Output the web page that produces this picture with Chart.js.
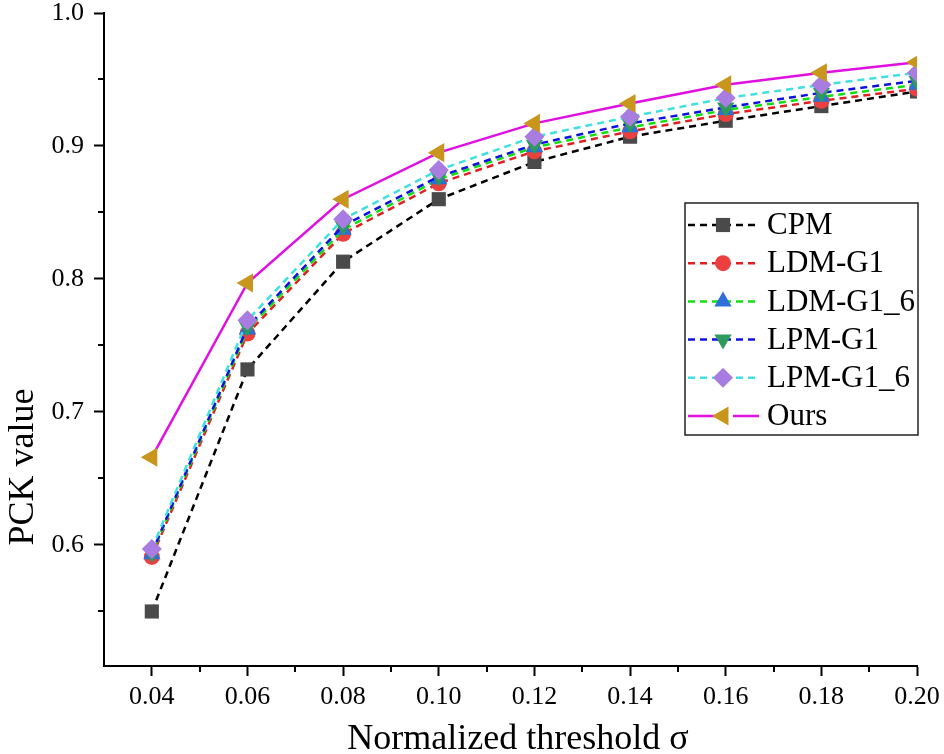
<!DOCTYPE html>
<html>
<head>
<meta charset="utf-8">
<script src="https://cdn.jsdelivr.net/npm/chart.js@4/dist/chart.umd.min.js"></script>
<style>
    html, body { margin: 0; padding: 0; background: #fff; }
    #wrap { width: 944px; height: 754px; }
</style>
</head>
<body>
<div id="wrap"><canvas id="chart" width="944" height="754"></canvas></div>
<script>
// --- Données ---
const thresholds = [0.04, 0.06, 0.08, 0.10, 0.12, 0.14, 0.16, 0.18, 0.20];
const cpm      = [0.550, 0.732, 0.813, 0.860, 0.888, 0.907, 0.919, 0.930, 0.941];
const ldmG1    = [0.591, 0.759, 0.834, 0.872, 0.896, 0.911, 0.924, 0.934, 0.943];
const ldmG1_6  = [0.593, 0.762, 0.837, 0.875, 0.899, 0.914, 0.927, 0.937, 0.946];
const lpmG1    = [0.594, 0.764, 0.840, 0.877, 0.901, 0.917, 0.929, 0.940, 0.949];
const lpmG1_6  = [0.597, 0.769, 0.845, 0.882, 0.907, 0.922, 0.936, 0.946, 0.955];
const ours     = [0.666, 0.797, 0.860, 0.895, 0.917, 0.932, 0.946, 0.955, 0.963];

const xTicks      = [0.04, 0.06, 0.08, 0.10, 0.12, 0.14, 0.16, 0.18, 0.20];
const xMinorTicks = [0.05, 0.07, 0.09, 0.11, 0.13, 0.15, 0.17, 0.19];
const yTicks      = [0.6, 0.7, 0.8, 0.9, 1.0];
const yMinorTicks = [0.55, 0.65, 0.75, 0.85, 0.95];

const FONT = "'Liberation Serif', 'Times New Roman', serif";
const X_TITLE = 'Normalized threshold σ';
const Y_TITLE = 'PCK value';

function toPoints(values) {
    return thresholds.map((x, i) => ({ x, y: values[i] }));
}

function makeSeries(label, values, lineColor, markerColor, pointStyle, rotation, radius, dashed, order) {
    return {
        label,
        data: toPoints(values),
        order,
        borderColor: lineColor,
        borderWidth: 2.5,
        borderDash: dashed ? [7, 5] : [],
        backgroundColor: markerColor,
        pointBackgroundColor: markerColor,
        pointBorderColor: markerColor,
        pointBorderWidth: 0,
        pointStyle,
        pointRotation: rotation,
        pointRadius: radius,
        tension: 0,
        fill: false
    };
}

// order : plus petit = dessiné par-dessus
const datasets = [
    makeSeries('CPM',       cpm,     '#000000', '#4a4a4a', 'rect',     0,   10, true,  6),
    makeSeries('LDM-G1',    ldmG1,   '#e02020', '#ec4040', 'circle',   0,   8,  true,  5),
    makeSeries('LDM-G1_6',  ldmG1_6, '#10e010', '#2c70d8', 'triangle', 0,   10, true,  4),
    makeSeries('LPM-G1',    lpmG1,   '#1010e0', '#2e9a5c', 'triangle', 180, 10, true,  3),
    makeSeries('LPM-G1_6',  lpmG1_6, '#40e0e0', '#a87ce0', 'rectRot',  0,   10, true,  2),
    makeSeries('Ours',      ours,    '#e010e0', '#c8961c', 'triangle', -90, 11, false, 1)
];

// --- Graduations secondaires + titres d'axes ---
const axisExtrasPlugin = {
    id: 'axisExtras',
    afterDraw(chart) {
        const ctx = chart.ctx;
        const x = chart.scales.x;
        const y = chart.scales.y;
        ctx.save();
        ctx.strokeStyle = '#000';
        ctx.lineWidth = 2;
        ctx.beginPath();
        xMinorTicks.forEach(v => {
            const px = Math.round(x.getPixelForValue(v));
            ctx.moveTo(px, x.top);
            ctx.lineTo(px, x.top + 6);
        });
        yMinorTicks.forEach(v => {
            const py = Math.round(y.getPixelForValue(v));
            ctx.moveTo(y.right, py);
            ctx.lineTo(y.right - 6, py);
        });
        ctx.stroke();

        ctx.font = `36px ${FONT}`;
        ctx.fillStyle = '#000';
        ctx.textAlign = 'center';
        ctx.textBaseline = 'middle';
        ctx.fillText(X_TITLE, 518, 740);

        // titre de l'axe y (décalé vers le bas comme dans l'original)
        ctx.translate(24, 467);
        ctx.rotate(-Math.PI / 2);
        ctx.fillText(Y_TITLE, 0, 0);
        ctx.restore();
    }
};

// --- Légende encadrée ---
const boxLegendPlugin = {
    id: 'boxLegend',
    afterDraw(chart) {
        const ctx = chart.ctx;
        const left = 685, top = 203, width = 233, height = 232;
        const rowH = 38.2;
        ctx.save();
        ctx.fillStyle = '#fff';
        ctx.fillRect(left, top, width, height);
        ctx.strokeStyle = '#222';
        ctx.lineWidth = 1.5;
        ctx.strokeRect(left, top, width, height);
        ctx.font = `31px ${FONT}`;
        ctx.textBaseline = 'middle';
        ctx.textAlign = 'left';

        chart.data.datasets.forEach((ds, i) => {
            const cy = top + 22 + i * rowH;
            ctx.strokeStyle = ds.borderColor;
            ctx.lineWidth = 2.5;
            ctx.setLineDash(ds.borderDash);
            ctx.beginPath();
            if (ds.borderDash.length) {
                ctx.moveTo(left + 3, cy);
                ctx.lineTo(left + 74, cy);
            } else {
                ctx.moveTo(left + 3, cy);
                ctx.lineTo(left + 30, cy);
                ctx.moveTo(left + 48, cy);
                ctx.lineTo(left + 74, cy);
            }
            ctx.stroke();
            ctx.setLineDash([]);

            ctx.fillStyle = ds.pointBackgroundColor;
            ctx.strokeStyle = ds.pointBackgroundColor;
            Chart.helpers.drawPoint(ctx, {
                pointStyle: ds.pointStyle,
                rotation: ds.pointRotation,
                radius: ds.pointRadius,
                borderWidth: 0
            }, left + 38, cy);

            ctx.fillStyle = '#000';
            ctx.fillText(ds.label, left + 82, cy + 1);
        });
        ctx.restore();
    }
};

// on fixe la zone de tracé : pas de marge automatique pour les libellés
function noLabelPadding(scale) {
    scale.paddingTop = 0;
    scale.paddingBottom = 0;
    scale.paddingLeft = 0;
    scale.paddingRight = 0;
}

new Chart(document.getElementById('chart'), {
    type: 'line',
    data: { datasets },
    plugins: [axisExtrasPlugin, boxLegendPlugin],
    options: {
        responsive: false,
        animation: false,
        layout: { padding: { top: 13, right: 27, left: 0, bottom: 0 } },
        plugins: {
            legend: { display: false },
            tooltip: { enabled: false }
        },
        scales: {
            x: {
                type: 'linear',
                min: 0.03,
                max: 0.20,
                afterBuildTicks: scale => { scale.ticks = xTicks.map(v => ({ value: v })); },
                afterFit: scale => { scale.height = 88; noLabelPadding(scale); },
                border: { display: true, color: '#000', width: 2 },
                grid: { drawOnChartArea: false, drawTicks: true, tickLength: 10, tickColor: '#000', tickWidth: 2 },
                ticks: {
                    color: '#000',
                    font: { family: FONT, size: 26 },
                    padding: 6,
                    maxRotation: 0,
                    callback: v => v.toFixed(2)
                },
                title: { display: false }
            },
            y: {
                type: 'linear',
                min: 0.509,
                max: 1.0,
                afterBuildTicks: scale => { scale.ticks = yTicks.map(v => ({ value: v })); },
                afterFit: scale => { scale.width = 104; noLabelPadding(scale); },
                border: { display: true, color: '#000', width: 2 },
                grid: { drawOnChartArea: false, drawTicks: true, tickLength: 10, tickColor: '#000', tickWidth: 2 },
                ticks: {
                    color: '#000',
                    font: { family: FONT, size: 26 },
                    padding: 10,
                    callback: v => v.toFixed(1)
                },
                title: { display: false }
            }
        }
    }
});
</script>
</body>
</html>
